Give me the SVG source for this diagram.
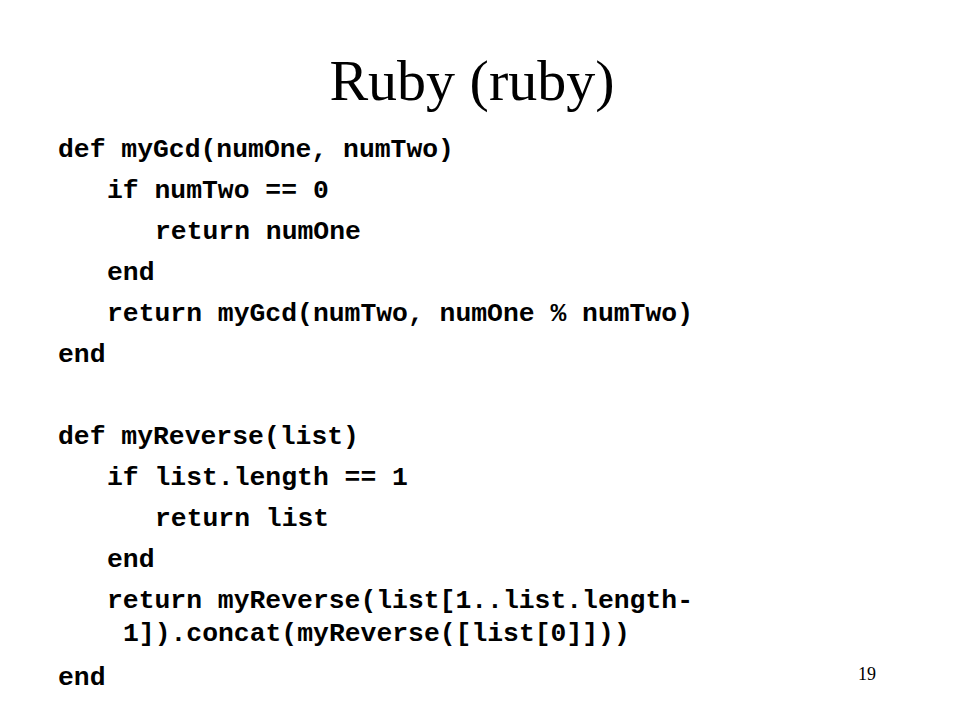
<svg xmlns="http://www.w3.org/2000/svg" width="960" height="720" viewBox="0 0 960 720">
<style>
.title{font-family:"Liberation Serif","Times New Roman",serif;font-size:58px;fill:#000}
.code{font-family:"Liberation Mono","Courier New",monospace;font-weight:bold;font-size:26.4px;fill:#000;white-space:pre}
.num{font-family:"Liberation Serif","Times New Roman",serif;font-size:18px;fill:#000}
</style>
<rect width="960" height="720" fill="#fff"/>
<g id="title"><text class="title" x="472" y="100" text-anchor="middle">Ruby (ruby)</text></g>
<g id="code">
<text class="code" x="58" y="157">def myGcd(numOne, numTwo)</text>
<text class="code" x="107" y="198">if numTwo == 0</text>
<text class="code" x="155" y="239">return numOne</text>
<text class="code" x="107" y="280">end</text>
<text class="code" x="107" y="321">return myGcd(numTwo, numOne % numTwo)</text>
<text class="code" x="58" y="362">end</text>
<text class="code" x="58" y="444">def myReverse(list)</text>
<text class="code" x="107" y="485">if list.length == 1</text>
<text class="code" x="155" y="526">return list</text>
<text class="code" x="107" y="567">end</text>
<text class="code" x="107" y="608">return myReverse(list[1..list.length-</text>
<text class="code" x="123" y="641">1]).concat(myReverse([list[0]]))</text>
<text class="code" x="58" y="685">end</text>
</g>
<g id="page"><text class="num" x="858" y="680">19</text></g>
</svg>
